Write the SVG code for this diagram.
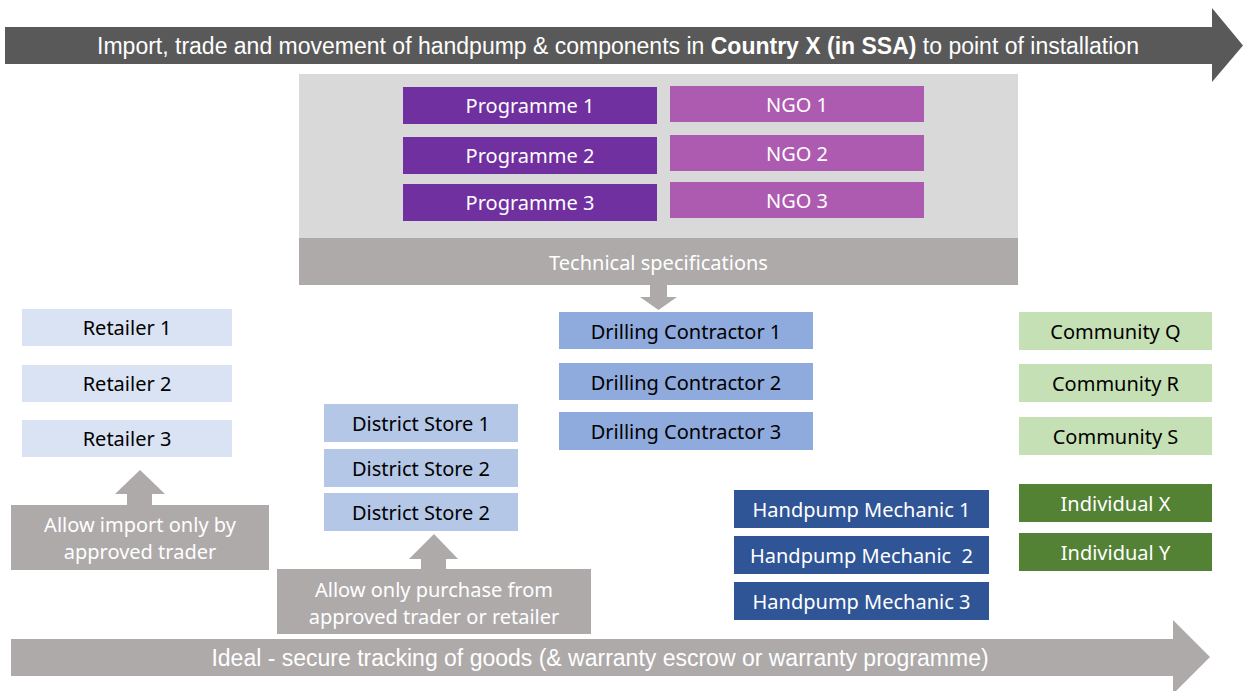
<svg xmlns="http://www.w3.org/2000/svg" width="1243" height="691" viewBox="0 0 1243 691">
<style>
.t{font-family:"Noto Sans","Open Sans",sans-serif;font-size:20px;text-anchor:middle}
.a{font-family:"Liberation Sans",Arial,sans-serif;font-size:23px;text-anchor:middle;fill:#fff}
.w{fill:#fff}.k{fill:#000}
.prog{fill:#7030a0}.ngo{fill:#ad5bb0}.ret{fill:#dae3f3}.dist{fill:#b4c7e7}.drill{fill:#8faadc}
.comm{fill:#c5e0b4}.ind{fill:#548235}.mech{fill:#2f5597}.grey{fill:#aeaaaa}
</style>
<rect width="1243" height="691" fill="#fff"/>
<g id="connectors">
<polygon id="top-arrow" points="5,27 1212,27 1212,8 1243,45.5 1212,82 1212,64 5,64" fill="#595959"/>
<polygon id="bottom-arrow" points="11,639 1173,639 1173,620 1210,657 1173,694 1173,676 11,676" class="grey"/>
<polygon id="spec-arrow" points="650,285 667,285 667,297 677,297 658.5,310 640,297 650,297" class="grey"/>
<polygon id="import-arrow" points="127,505 152,505 152,494 165,494 140,470 115,494 127,494" class="grey"/>
<polygon id="purchase-arrow" points="421,569 446,569 446,559 458,559 434,534 409,559 421,559" class="grey"/>
</g>
<text class="a" x="618" y="54">Import, trade and movement of handpump &amp; components in <tspan font-weight="bold">Country X (in SSA)</tspan> to point of installation</text>
<text class="a" x="600" y="666">Ideal - secure tracking of goods (&amp; warranty escrow or warranty programme)</text>
<g id="panel">
<rect x="299" y="74" width="719" height="164" fill="#d9d9d9"/>
</g>
<g id="tech-spec"><rect x="299" y="238" width="719" height="47" class="grey"/><text class="t w" x="658.5" y="270">Technical specifications</text></g>
<g id="programme1"><rect x="403" y="87" width="254" height="37" class="prog"/><text class="t w" x="530" y="113">Programme 1</text></g>
<g id="programme2"><rect x="403" y="137" width="254" height="37" class="prog"/><text class="t w" x="530" y="163">Programme 2</text></g>
<g id="programme3"><rect x="403" y="184" width="254" height="37" class="prog"/><text class="t w" x="530" y="210">Programme 3</text></g>
<g id="ngo1"><rect x="670" y="86" width="254" height="36" class="ngo"/><text class="t w" x="797" y="112">NGO 1</text></g>
<g id="ngo2"><rect x="670" y="135" width="254" height="36" class="ngo"/><text class="t w" x="797" y="161">NGO 2</text></g>
<g id="ngo3"><rect x="670" y="182" width="254" height="36" class="ngo"/><text class="t w" x="797" y="208">NGO 3</text></g>
<g id="retailer1"><rect x="22" y="309" width="210" height="37" class="ret"/><text class="t k" x="127" y="335">Retailer 1</text></g>
<g id="retailer2"><rect x="22" y="365" width="210" height="37" class="ret"/><text class="t k" x="127" y="391">Retailer 2</text></g>
<g id="retailer3"><rect x="22" y="420" width="210" height="37" class="ret"/><text class="t k" x="127" y="446">Retailer 3</text></g>
<g id="import-note"><rect x="11" y="505" width="258" height="65" class="grey"/><text class="t w" x="140" y="532">Allow import only by</text><text class="t w" x="140" y="559">approved trader</text></g>
<g id="district1"><rect x="324" y="404" width="194" height="38" class="dist"/><text class="t k" x="421" y="431">District Store 1</text></g>
<g id="district2"><rect x="324" y="449" width="194" height="38" class="dist"/><text class="t k" x="421" y="476">District Store 2</text></g>
<g id="district3"><rect x="324" y="493" width="194" height="38" class="dist"/><text class="t k" x="421" y="520">District Store 2</text></g>
<g id="purchase-note"><rect x="277" y="569" width="314" height="65" class="grey"/><text class="t w" x="434" y="597">Allow only purchase from</text><text class="t w" x="434" y="624">approved trader or retailer</text></g>
<g id="drill1"><rect x="559" y="312" width="254" height="37" class="drill"/><text class="t k" x="686" y="339">Drilling Contractor 1</text></g>
<g id="drill2"><rect x="559" y="363" width="254" height="37" class="drill"/><text class="t k" x="686" y="390">Drilling Contractor 2</text></g>
<g id="drill3"><rect x="559" y="412" width="254" height="38" class="drill"/><text class="t k" x="686" y="439">Drilling Contractor 3</text></g>
<g id="mech1"><rect x="734" y="490" width="255" height="38" class="mech"/><text class="t w" x="861.5" y="517">Handpump Mechanic 1</text></g>
<g id="mech2"><rect x="734" y="536" width="255" height="38" class="mech"/><text class="t w" x="861.5" y="563" xml:space="preserve">Handpump Mechanic  2</text></g>
<g id="mech3"><rect x="734" y="582" width="255" height="38" class="mech"/><text class="t w" x="861.5" y="609">Handpump Mechanic 3</text></g>
<g id="commQ"><rect x="1019" y="312" width="193" height="38" class="comm"/><text class="t k" x="1115.5" y="339">Community Q</text></g>
<g id="commR"><rect x="1019" y="364" width="193" height="38" class="comm"/><text class="t k" x="1115.5" y="391">Community R</text></g>
<g id="commS"><rect x="1019" y="417" width="193" height="38" class="comm"/><text class="t k" x="1115.5" y="444">Community S</text></g>
<g id="indX"><rect x="1019" y="484" width="193" height="38" class="ind"/><text class="t w" x="1115.5" y="511">Individual X</text></g>
<g id="indY"><rect x="1019" y="533" width="193" height="38" class="ind"/><text class="t w" x="1115.5" y="560">Individual Y</text></g>
</svg>
